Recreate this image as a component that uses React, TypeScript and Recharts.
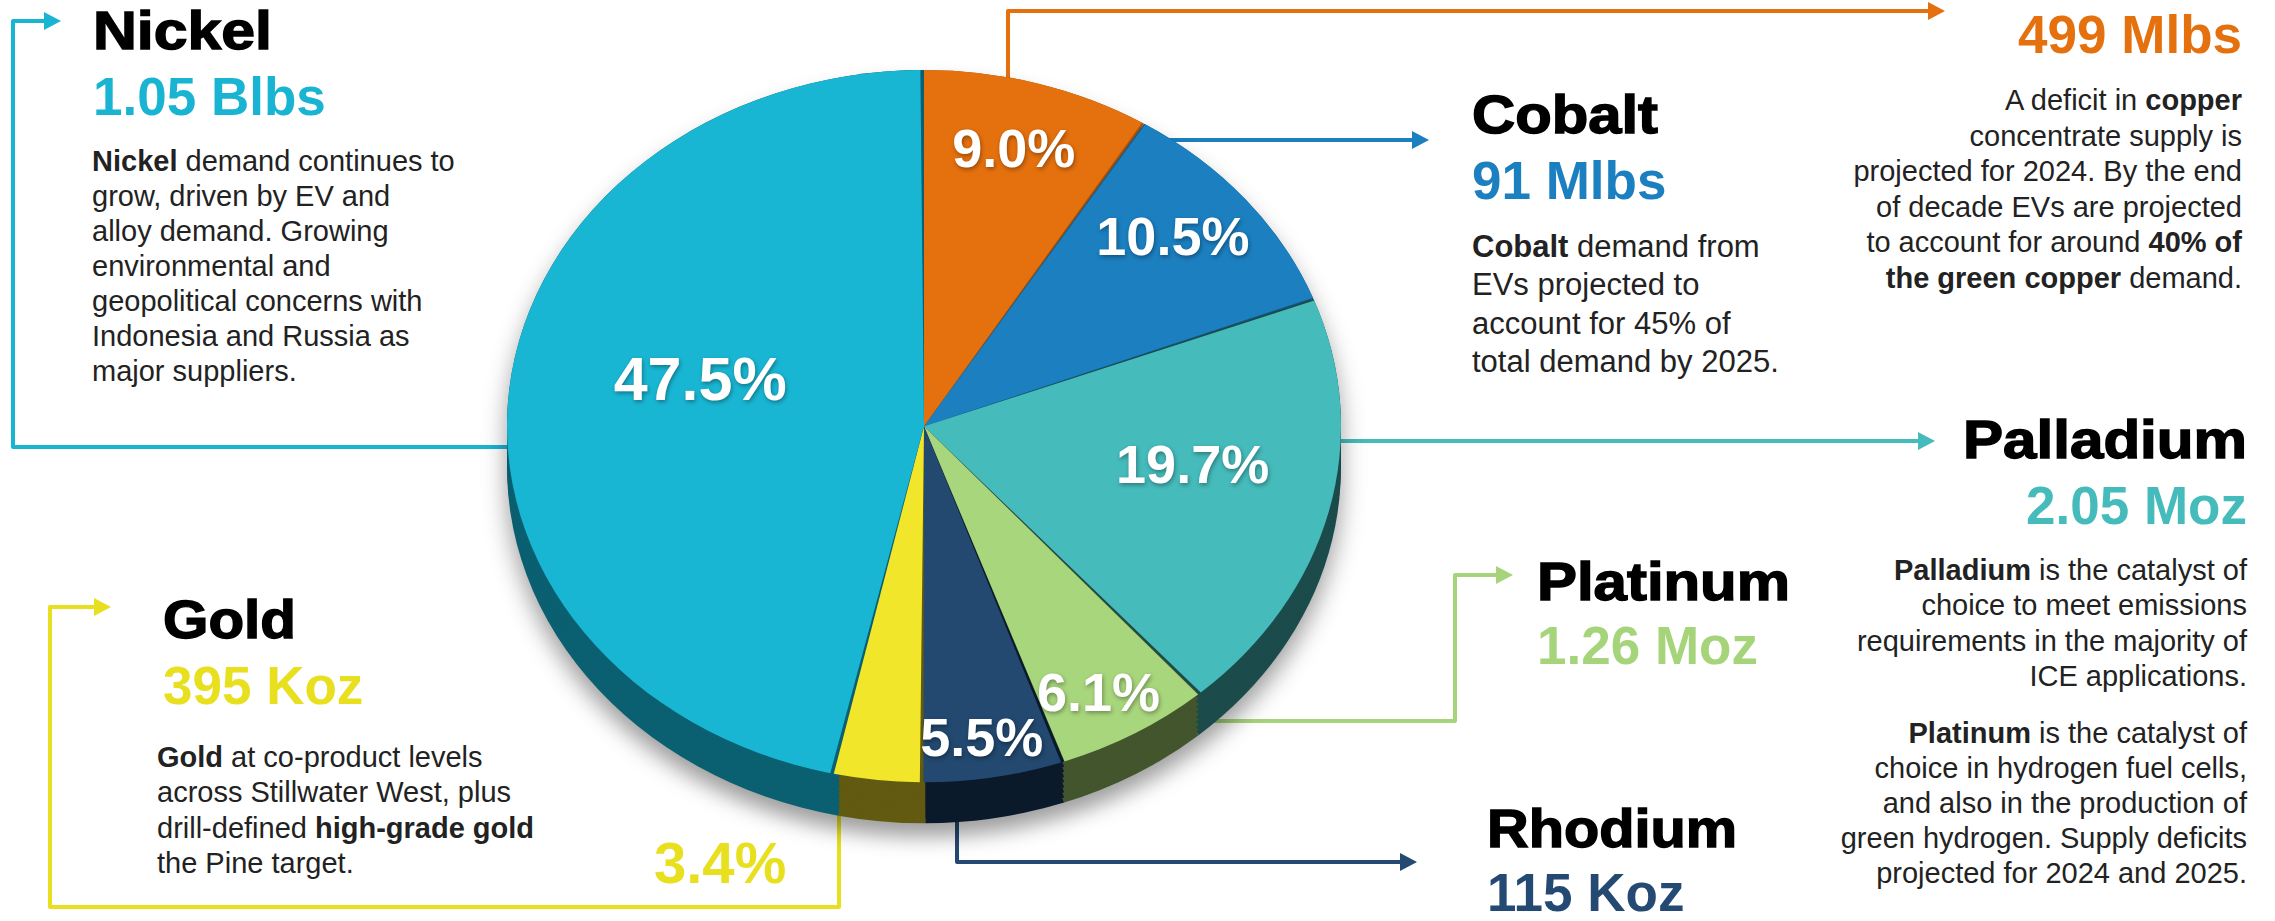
import React from "react";
import { PieChart, Pie, Cell } from "recharts";

// slices run clockwise from 12 o'clock
const METALS = ["Copper", "Cobalt", "Palladium", "Platinum", "Rhodium", "Gold", "Nickel"];
const SHARES = [9.0, 10.5, 19.7, 6.1, 5.5, 3.4, 47.5];
const DEMAND = ["499 Mlbs", "91 Mlbs", "2.05 Moz", "1.26 Moz", "115 Koz", "395 Koz", "1.05 Blbs"];

const SLICE_COLORS = ["#e5700e", "#1b7fc0", "#45bbbb", "#a8d67c", "#234970", "#f2e62b", "#19b6d3"];
const SIDE_COLORS = ["#a34f09", "#135a8a", "#1c4b4b", "#43552c", "#0b1a2b", "#625a10", "#0a5f70"];
const INK_COLORS = ["#e5700e", "#1b7fc0", "#45bbbb", "#a6d47a", "#244a74", "#e8df1e", "#1ab4d3"];

// ** marks bold runs
const COPPER_NOTE = [
  "A deficit in **copper**",
  "concentrate supply is",
  "projected for 2024. By the end",
  "of decade EVs are projected",
  "to account for around **40% of**",
  "**the green copper** demand.",
];
const COBALT_NOTE = ["**Cobalt** demand from", "EVs projected to", "account for 45% of", "total demand by 2025."];
const PALLADIUM_NOTE = [
  "**Palladium** is the catalyst of",
  "choice to meet emissions",
  "requirements in the majority of",
  "ICE applications.",
];
const PLATINUM_NOTE = [
  "**Platinum** is the catalyst of",
  "choice in hydrogen fuel cells,",
  "and also in the production of",
  "green hydrogen. Supply deficits",
  "projected for 2024 and 2025.",
];
const GOLD_NOTE = [
  "**Gold** at co-product levels",
  "across Stillwater West, plus",
  "drill-defined **high-grade gold**",
  "the Pine target.",
];
const NICKEL_NOTE = [
  "**Nickel** demand continues to",
  "grow, driven by EV and",
  "alloy demand. Growing",
  "environmental and",
  "geopolitical concerns with",
  "Indonesia and Russia as",
  "major suppliers.",
];

const FONT = "'Liberation Sans', Arial, Helvetica, sans-serif";
const pieData = METALS.map((name, i) => ({ name, share: SHARES[i] }));

// pie geometry (unscaled svg units, squashed by K to get the tilted look)
const W = 900;
const H = 1000;
const CX = 450;
const CY = 499;
const R = 417;
const K = 0.854;
const DEPTH = 48;
const LIFT = 33; // perspective: apex sits above the ellipse centre
const RAD = Math.PI / 180;
const sideSteps = Array.from({ length: 9 }, (_, i) => DEPTH - i * 6);

const pct = (v: number) => `${v.toFixed(1)}%`;

function renderPct(props: any) {
  const { cx, cy, midAngle, outerRadius, index } = props;
  const share = SHARES[index];
  if (share < 4) return null; // gold is labelled outside
  const big = share > 40;
  const f = big ? 0.54 : 0.9 - 0.012 * share;
  const dx = Math.cos(-midAngle * RAD);
  const dy = Math.sin(-midAngle * RAD);
  const ry = dy < 0 ? outerRadius - LIFT : outerRadius + 2 * LIFT;
  const x = cx + f * outerRadius * dx;
  const y = cy - LIFT + f * ry * dy;
  return (
    <g transform={`translate(${x},${y}) scale(1,${1 / K})`}>
      <text
        x={0}
        y={0}
        textAnchor="middle"
        dominantBaseline="central"
        fill="#fff"
        fontSize={big ? 61 : 54}
        fontWeight={700}
        fontFamily={FONT}
        style={{ filter: "drop-shadow(1px 2px 2px rgba(0,0,0,0.35))" }}
      >
        {pct(share)}
      </text>
    </g>
  );
}

function Rich({ x, y, lines, anchor = "start", size = 29, gap = 35 }: any) {
  return (
    <>
      {lines.map((line: string, li: number) => (
        <text
          key={li}
          x={x}
          y={y + li * gap}
          textAnchor={anchor}
          fontSize={size}
          fill="#222"
          style={{ whiteSpace: "pre" }}
        >
          {line.split("**").map((part, i) => (
            <tspan key={i} fontWeight={i % 2 ? 700 : 400}>
              {part}
            </tspan>
          ))}
        </text>
      ))}
    </>
  );
}

function Title({ i, x, y, len, anchor = "start" }: any) {
  return (
    <text
      x={x}
      y={y}
      textAnchor={anchor}
      fontSize={53}
      fontWeight={700}
      fill="#000"
      stroke="#000"
      strokeWidth={1.4}
      textLength={len}
      lengthAdjust="spacingAndGlyphs"
    >
      {METALS[i]}
    </text>
  );
}

function Value({ i, x, y, anchor = "start" }: any) {
  return (
    <text x={x} y={y} textAnchor={anchor} fontSize={53} fontWeight={700} fill={INK_COLORS[i]}>
      {DEMAND[i]}
    </text>
  );
}

function Connector({ i, points, tip }: any) {
  const [tx, ty] = tip;
  return (
    <g>
      <polyline points={points} fill="none" stroke={INK_COLORS[i]} strokeWidth={4} strokeLinejoin="round" />
      <polygon points={`${tx},${ty} ${tx - 17},${ty - 9} ${tx - 17},${ty + 9}`} fill={INK_COLORS[i]} />
    </g>
  );
}

export default function App() {
  return (
    <div
      style={{
        position: "absolute",
        left: 0,
        top: 0,
        width: 2275,
        height: 921,
        overflow: "hidden",
        background: "#fff",
        fontFamily: FONT,
      }}
    >
      <svg width={2275} height={921} style={{ position: "absolute", left: 0, top: 0 }} fontFamily={FONT}>
        {/* connector lines, tucked under the pie */}
        <Connector i={6} points="540,447 13,447 13,21 46,21" tip={[61, 21]} />
        <Connector i={0} points="1008,100 1008,11 1930,11" tip={[1945, 11]} />
        <Connector i={1} points="1150,140 1414,140" tip={[1429, 140]} />
        <Connector i={2} points="1310,441 1920,441" tip={[1935, 441]} />
        <Connector i={3} points="1180,721 1455,721 1455,575 1498,575" tip={[1513, 575]} />
        <Connector i={4} points="957,800 957,862 1402,862" tip={[1417, 862]} />
        <Connector i={5} points="839,790 839,907 50,907 50,607 96,607" tip={[111, 607]} />

        {/* Nickel */}
        <Title i={6} x={93} y={49} len={179} />
        <Value i={6} x={93} y={115} />
        <Rich x={92} y={171} lines={NICKEL_NOTE} />

        {/* Cobalt */}
        <Title i={1} x={1472} y={133} len={186} />
        <Value i={1} x={1472} y={199} />
        <Rich x={1472} y={257} lines={COBALT_NOTE} size={31} gap={38.3} />

        {/* Copper */}
        <Value i={0} x={2242} y={53} anchor="end" />
        <Rich x={2242} y={110} lines={COPPER_NOTE} anchor="end" gap={35.5} />

        {/* Palladium */}
        <Title i={2} x={2247} y={458} len={284} anchor="end" />
        <Value i={2} x={2247} y={524} anchor="end" />
        <Rich x={2247} y={580} lines={PALLADIUM_NOTE} anchor="end" gap={35.3} />
        <Rich x={2247} y={743} lines={PLATINUM_NOTE} anchor="end" gap={35} />

        {/* Platinum */}
        <Title i={3} x={1537} y={600} len={253} />
        <Value i={3} x={1537} y={664} />

        {/* Rhodium */}
        <Title i={4} x={1487} y={847} len={250} />
        <Value i={4} x={1487} y={911} />

        {/* Gold */}
        <Title i={5} x={163} y={638} len={133} />
        <Value i={5} x={163} y={704} />
        <Rich x={157} y={767} lines={GOLD_NOTE} gap={35.3} />
        <text x={654} y={883} fontSize={58} fontWeight={700} fill={INK_COLORS[5]}>
          {pct(SHARES[5])}
        </text>
      </svg>

      <div
        style={{
          position: "absolute",
          left: 474,
          top: 0,
          width: W,
          height: H,
          transform: `scaleY(${K})`,
          transformOrigin: "0 0",
          filter: "drop-shadow(0px 16px 12px rgba(0,0,0,0.38))",
        }}
      >
        <PieChart width={W} height={H} margin={{ top: 0, right: 0, bottom: 0, left: 0 }}>
          {sideSteps.map((d) => (
            <Pie
              key={d}
              data={pieData}
              dataKey="share"
              nameKey="name"
              cx={CX}
              cy={CY + d}
              outerRadius={R}
              startAngle={90}
              endAngle={-270}
              stroke="none"
              isAnimationActive={false}
            >
              {pieData.map((p, i) => (
                <Cell key={p.name} fill={SIDE_COLORS[i]} />
              ))}
            </Pie>
          ))}
          <Pie
            data={pieData}
            dataKey="share"
            nameKey="name"
            cx={CX}
            cy={CY}
            outerRadius={R}
            startAngle={90}
            endAngle={-270}
            paddingAngle={0.5}
            stroke="none"
            label={renderPct}
            labelLine={false}
            isAnimationActive={false}
          >
            {pieData.map((p, i) => (
              <Cell key={p.name} fill={SLICE_COLORS[i]} />
            ))}
          </Pie>
        </PieChart>
      </div>
    </div>
  );
}
